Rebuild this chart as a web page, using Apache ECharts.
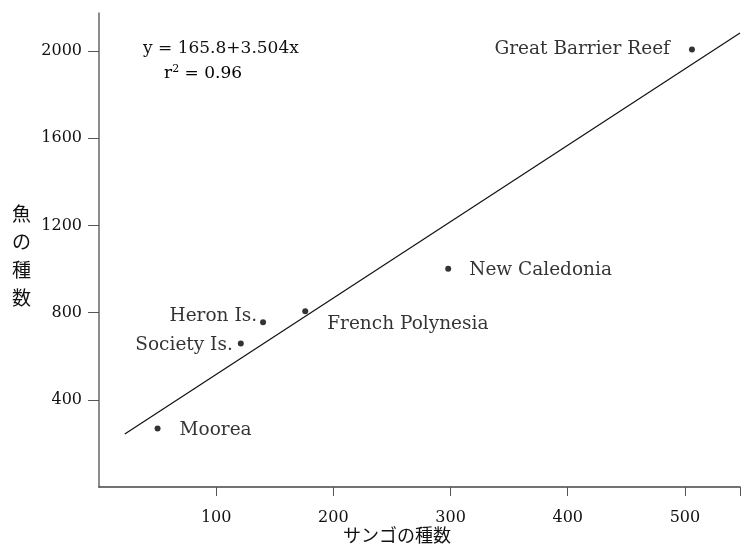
<!DOCTYPE html>
<html>
<head>
<meta charset="utf-8">
<script src="https://cdn.jsdelivr.net/npm/echarts@6/dist/echarts.min.js"></script>
<style>
html,body{margin:0;padding:0;background:#fff;}
#chart{width:743px;height:549px;}
</style>
</head>
<body>
<div id="chart"></div>
<script>
// Data
var sites = ['Moorea', 'Society Is.', 'Heron Is.', 'French Polynesia', 'New Caledonia', 'Great Barrier Reef'];
var coralSpecies = [50, 121, 140, 176, 298, 506];
var fishSpecies = [268, 658, 756, 806, 1001, 2008];
// Regression line end points (y = 165.8 + 3.504x), as drawn
var fitX = [22, 547];
var fitY = [243, 2083];
var yTicks = [400, 800, 1200, 1600, 2000];
var xTicks = [100, 200, 300, 400, 500];

var latin = 'DejaVu Serif';
var cjk = '"Noto Sans CJK JP"';

// label placement per point (offsets only)
var labelPos = ['right', 'left', 'left', 'right', 'right', 'left'];
var labelOffset = [[3, 2], [11, 2], [13, -6], [3, 13], [2, 1], [-3, 0]];

var pts = coralSpecies.map(function (x, i) {
  return {
    value: [x, fishSpecies[i]],
    name: sites[i],
    label: {
      show: true,
      position: labelPos[i],
      distance: 16,
      offset: labelOffset[i],
      formatter: sites[i]
    }
  };
});

var chart = echarts.init(document.getElementById('chart'), null, {renderer: 'canvas'});
chart.setOption({
  animation: false,
  backgroundColor: '#fff',
  grid: {left: 99, right: 0, top: 13, bottom: 62, containLabel: false},
  xAxis: {
    type: 'value', min: 0, max: 547, interval: 100,
    axisLine: {show: true, lineStyle: {color: '#444', width: 1.5}},
    axisTick: {show: true, length: 9, lineStyle: {color: '#555', width: 1}},
    axisLabel: {
      showMinLabel: false, margin: 23, fontFamily: latin, fontSize: 16, color: '#111',
      formatter: function (v) { return xTicks.indexOf(v) >= 0 ? String(v) : ''; }
    },
    splitLine: {show: false}
  },
  yAxis: {
    type: 'value', min: 0, max: 2175, interval: 400,
    axisLine: {show: true, lineStyle: {color: '#666', width: 1.5}},
    axisTick: {show: true, length: 11, lineStyle: {color: '#555', width: 1}},
    axisLabel: {
      showMinLabel: false, showMaxLabel: false, margin: 17, fontFamily: latin, fontSize: 16, color: '#111',
      formatter: function (v) { return yTicks.indexOf(v) >= 0 ? String(v) : ''; }
    },
    splitLine: {show: false}
  },
  graphic: [
    {
      type: 'text', left: 12, top: 200,
      style: {text: '魚\nの\n種\n数', font: '19px ' + cjk, fill: '#111', lineHeight: 28}
    },
    {
      type: 'text', left: 343, top: 526,
      style: {text: 'サンゴの種数', font: '18px ' + cjk, fill: '#111'}
    },
    {
      type: 'text', left: 143, top: 40,
      style: {text: 'y = 165.8+3.504x', font: '17px ' + latin, fill: '#111'}
    },
    {
      type: 'text', left: 164, top: 64,
      style: {
        text: '{a|r}{s|2}{a| = 0.96}',
        rich: {
          a: {fontFamily: latin, fontSize: 17, color: '#111'},
          s: {fontFamily: latin, fontSize: 11, color: '#111', verticalAlign: 'top', padding: [0, 0, 8, 0]}
        }
      }
    }
  ],
  series: [
    {
      type: 'line',
      data: fitX.map(function (x, i) { return [x, fitY[i]]; }),
      symbol: 'none',
      lineStyle: {color: '#111', width: 1.2},
      silent: true,
      z: 2
    },
    {
      type: 'scatter',
      data: pts,
      symbol: 'circle',
      symbolSize: 6,
      itemStyle: {color: '#000'},
      label: {fontFamily: latin, fontSize: 18.5, color: '#000'},
      z: 3
    }
  ]
});
</script>
</body>
</html>
